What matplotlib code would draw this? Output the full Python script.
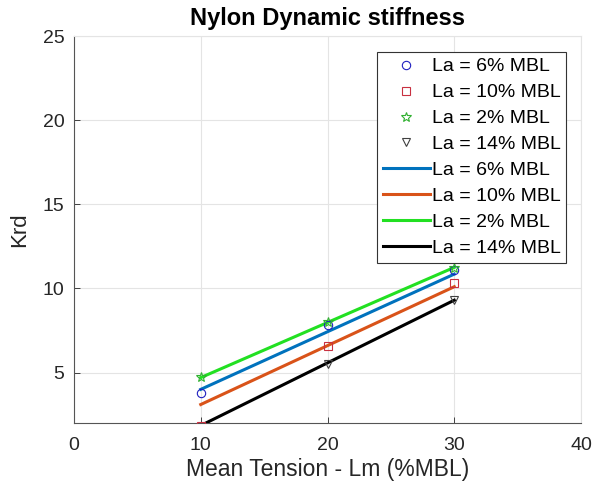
import matplotlib
matplotlib.use("Agg")
import matplotlib.pyplot as plt
import numpy as np

plt.rcParams['font.family'] = ['Liberation Sans', 'DejaVu Sans']

# Measured data (markers)
tension = [10, 20, 30]
krd_6 = [3.8, 7.8, 11.1]
krd_10 = [1.8, 6.6, 10.3]
krd_2 = [4.75, 8.0, 11.2]
krd_14 = [1.7, 5.5, 9.3]

# Linear fit lines (endpoints)
fit_x = [10, 30]
fit_6 = [4.0, 10.85]
fit_10 = [3.1, 10.1]
fit_2 = [4.7, 11.25]
fit_14 = [1.85, 9.3]

labels = ['La = 6% MBL', 'La = 10% MBL', 'La = 2% MBL', 'La = 14% MBL']

fig = plt.figure(figsize=(5.93, 4.92), dpi=100)
ax = fig.add_axes([0.1248, 0.1402, 0.855, 0.7866])

ax.plot(tension, krd_6, 'o', mfc='none', mec='#2020c0', ms=6, mew=0.8, label=labels[0], zorder=4)
ax.plot(tension, krd_10, 's', mfc='none', mec='#c83040', ms=6, mew=0.8, label=labels[1], zorder=4)
ax.plot(tension, krd_2, '*', mfc='none', mec='#30b030', ms=7, mew=0.8, label=labels[2], zorder=4)
ax.plot(tension, krd_14, 'v', mfc='none', mec='#404040', ms=6, mew=0.8, label=labels[3], zorder=4)

ax.plot(fit_x, fit_6, '-', color='#0072BD', lw=2.2, label=labels[0], zorder=3)
ax.plot(fit_x, fit_10, '-', color='#D95319', lw=2.2, label=labels[1], zorder=3)
ax.plot(fit_x, fit_2, '-', color='#22e022', lw=2.2, label=labels[2], zorder=3)
ax.plot(fit_x, fit_14, '-', color='#000000', lw=2.2, label=labels[3], zorder=3)

ax.set_xlim(0, 40)
ax.set_ylim(2, 25)
ax.set_xticks([0, 10, 20, 30, 40])
ax.set_yticks([5, 10, 15, 20, 25])
ax.tick_params(direction='in', labelsize=14, colors='#262626', length=4, width=0.6)
ax.tick_params(axis='x', pad=10)
ax.tick_params(axis='y', pad=7)
ax.grid(True, color='#e4e4e4', lw=0.8)
ax.set_axisbelow(True)
for s in ['left', 'bottom']:
    ax.spines[s].set_color('#555555')
    ax.spines[s].set_linewidth(0.8)
for s in ['top', 'right']:
    ax.spines[s].set_color('#e4e4e4')
    ax.spines[s].set_linewidth(0.8)

ax.set_title('Nylon Dynamic stiffness', fontsize=17, fontweight='bold', pad=8)
ax.set_xlabel('Mean Tension - Lm (%MBL)', fontsize=16.5, color='#262626', labelpad=3)
ax.set_ylabel('Krd', fontsize=16, color='#262626', labelpad=9)

leg = ax.legend(loc='upper right', fontsize=14, handlelength=2.4, handletextpad=0.1,
                labelspacing=0.43, borderpad=0.3, fancybox=False, framealpha=1,
                edgecolor='#333333', bbox_to_anchor=(0.99, 0.984))
leg.get_frame().set_linewidth(0.8)

fig.savefig('out.png', dpi=100)
